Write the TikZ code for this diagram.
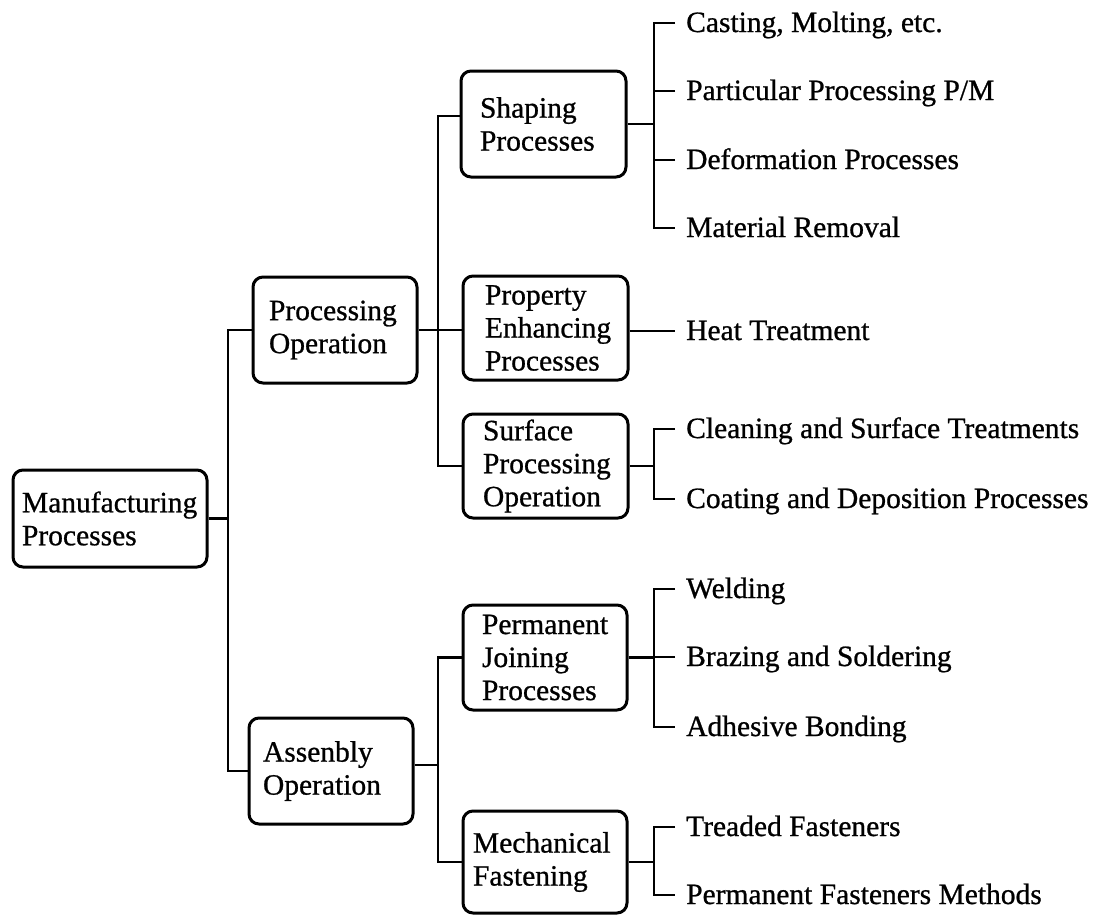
\documentclass[tikz,border=0pt]{standalone}
\usepackage{fontspec}
\setmainfont{Liberation Serif}[FakeBold=0.8]
\newcommand{\fs}{\fontsize{29.5}{33}\selectfont}
\tikzset{
  box/.style={draw, line width=3pt, rounded corners=10pt, inner ysep=0pt, align=left, font=\fs},
  leaf/.style={anchor=base west, inner sep=0pt, font=\fs},
  conn/.style={line width=2.8pt}
}
\begin{document}
\begin{tikzpicture}[x=1pt,y=-1pt]
\useasboundingbox (0,0) rectangle (1097,916);
% boxes
\node[box, minimum width=194pt, minimum height=97pt, inner xsep=9pt, text width=176pt] (MP) at (110,518.5) {Manufacturing\\Processes};
\node[box, minimum width=164pt, minimum height=106pt, inner xsep=16pt, text width=132pt] (PO) at (335,330) {Processing\\Operation};
\node[box, minimum width=164pt, minimum height=106pt, inner xsep=14pt, text width=136pt] (AO) at (331,771) {Assenbly\\Operation};
\node[box, minimum width=165pt, minimum height=106pt, inner xsep=19pt, text width=127pt] (SP) at (543.5,124) {Shaping\\Processes};
\node[box, minimum width=165pt, minimum height=104pt, inner xsep=22pt, text width=121pt] (PE) at (545.5,328) {Property\\Enhancing\\Processes};
\node[box, minimum width=165pt, minimum height=104pt, inner xsep=20pt, text width=125pt] (SPO) at (545.5,466) {Surface\\Processing\\Operation};
\node[box, minimum width=164pt, minimum height=105pt, inner xsep=19pt, text width=126pt] (PJ) at (545,657.5) {Permanent\\Joining\\Processes};
\node[box, minimum width=164pt, minimum height=102pt, inner xsep=10pt, text width=144pt] (MF) at (545,862) {Mechanical\\Fastening};
% leaves
\node[leaf] (L1) at (686,32) {Casting, Molting, etc.};
\node[leaf] (L2) at (686,100) {Particular Processing P/M};
\node[leaf] (L3) at (686,169) {Deformation Processes};
\node[leaf] (L4) at (686,237) {Material Removal};
\node[leaf] (L5) at (686,340) {Heat Treatment};
\node[leaf] (L6) at (686,438) {Cleaning and Surface Treatments};
\node[leaf] (L7) at (686,508) {Coating and Deposition Processes};
\node[leaf] (L8) at (686,598) {Welding};
\node[leaf] (L9) at (686,666) {Brazing and Soldering};
\node[leaf] (L10) at (686,736) {Adhesive Bonding};
\node[leaf] (L11) at (686,836) {Treaded Fasteners};
\node[leaf] (L12) at (686,904) {Permanent Fasteners Methods};
% junction coordinates
\coordinate (T) at (228,0);
\coordinate (U) at (438,0);
\coordinate (V) at (654,0);
\foreach \i in {1,...,12} {\coordinate (t\i) at ([xshift=-11pt,yshift=9pt]L\i.base west);}
% level 1
\draw[conn] (MP.east) -- (MP.east -| T);
\draw[conn] (PO.west) -- (PO.west -| T) |- (AO.west);
% level 2
\draw[conn] ([yshift=8pt]SP.west) -- ([yshift=8pt]SP.west -| U) |- (SPO.west);
\draw[conn] (PO.east) -- (PO.east -| PE.west);
\draw[conn] ([yshift=6pt]AO.east) -- ([yshift=6pt]AO.east -| U);
\draw[conn] (PJ.west) -- (PJ.west -| U) |- (MF.west);
% brackets
\draw[conn] (SP.east) -- (SP.east -| V);
\draw[conn] (t1) -| (V |- t4) -- (t4);
\draw[conn] (t2) -- (V |- t2);
\draw[conn] (t3) -- (V |- t3);
\draw[conn] (t5 -| PE.east) -- (t5);
\draw[conn] (SPO.east) -- (SPO.east -| V);
\draw[conn] (t6) -| (V |- t7) -- (t7);
\draw[conn] (PJ.east) -- (PJ.east -| V);
\draw[conn] (t8) -| (V |- t10) -- (t10);
\draw[conn] (t9) -- (V |- t9);
\draw[conn] (MF.east) -- (MF.east -| V);
\draw[conn] (t11) -| (V |- t12) -- (t12);
\end{tikzpicture}
\end{document}
